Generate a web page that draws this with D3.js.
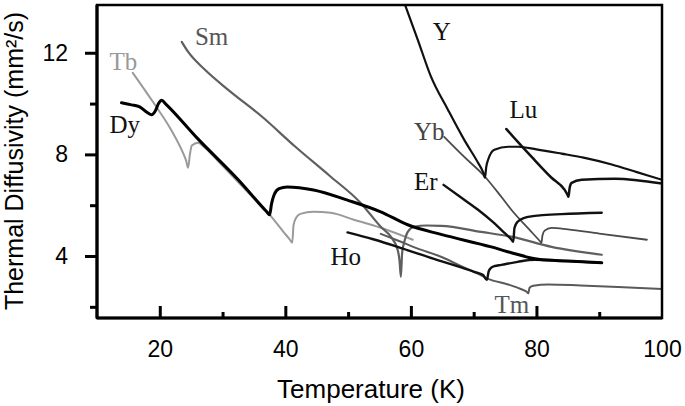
<!DOCTYPE html>
<html>
<head>
<meta charset="utf-8">
<script src="https://cdnjs.cloudflare.com/ajax/libs/d3/7.8.5/d3.min.js"></script>
<style>
  body { margin: 0; background: #fff; }
  svg { display: block; }
</style>
</head>
<body>
<svg id="chart" width="685" height="406"></svg>
<script>
// temperature (K), thermal diffusivity (mm2/s) pairs
const dy = [[13.9,10.03],[15.5,9.95],[16.8,9.87],[18.0,9.65],[18.7,9.56],[19.3,9.72],[19.8,10.0],[20.3,10.13],[21.0,9.97],[26,8.63],[32.5,7.0],[37.0,5.75],[37.5,5.62],[37.8,6.05],[38.2,6.4],[39.0,6.65],[40.3,6.72],[44.5,6.6],[49.9,6.2],[55.2,5.74],[59.5,5.23],[64.8,4.85],[72.8,4.36],[76,4.13],[80.3,3.87],[85,3.8],[90.4,3.73]];
const tb = [[15.7,11.21],[18.9,10.07],[21.8,8.97],[23.7,8.06],[24.2,7.75],[24.5,7.47],[24.8,8.0],[25.1,8.35],[26.1,8.46],[27,8.3],[30,7.55],[34,6.52],[37.6,5.6],[39.7,4.95],[40.7,4.65],[41.1,4.52],[41.3,5.2],[41.7,5.5],[42.4,5.66],[44.5,5.74],[47.2,5.7],[50.9,5.43],[55.2,5.11],[60.3,4.64]];
const sm = [[23.5,12.43],[24.5,12.04],[27.2,11.33],[30.9,10.54],[36.3,9.48],[41.6,8.3],[47,7.17],[52.0,6.09],[55.2,5.15],[56.8,4.76],[57.9,4.24],[58.2,3.8],[58.4,3.18],[58.6,4.1],[59.0,4.6],[59.5,4.95],[60.5,5.15],[62.5,5.2],[64.8,5.19],[71.2,4.95],[76,4.76],[82.4,4.36],[90.4,4.05]];
const y = [[58.9,14.0],[61.1,12.51],[63.2,11.06],[65.9,9.76],[68.5,8.57],[70.7,7.67],[71.5,7.3],[71.8,7.08],[72.0,7.5],[72.3,7.79],[73.3,8.18],[75.5,8.3],[77.1,8.3],[80,8.2],[84,8.03],[87.5,7.87],[92,7.6],[96,7.3],[100,7.0]];
const lu = [[75.2,9.0],[77,8.5],[79.2,7.91],[82.4,7.08],[84.5,6.6],[85.0,6.38],[85.1,6.33],[85.3,6.7],[85.6,6.88],[87.2,7.0],[92.5,7.04],[100,6.85]];
const yb = [[65.3,8.69],[68.5,7.9],[71.7,7.15],[74.4,6.33],[76,5.82],[79.2,4.95],[80.5,4.6],[80.8,4.52],[80.95,4.8],[81.3,5.0],[82.4,5.11],[85,5.05],[90,4.88],[97.6,4.64]];
const er = [[65.2,6.8],[68,6.3],[70.7,5.82],[73,5.35],[74.9,4.91],[76.0,4.65],[76.3,4.56],[76.5,5.1],[77,5.35],[78.1,5.5],[80.5,5.6],[84,5.65],[90.4,5.7]];
const ho = [[49.9,4.93],[54,4.66],[57.9,4.36],[61,4.1],[64.8,3.8],[68,3.55],[70.1,3.38],[71.5,3.25],[72.1,3.06],[72.4,3.4],[72.8,3.54],[73.3,3.6],[74.4,3.65],[77,3.77],[79.7,3.85],[85,3.8],[90.4,3.73]];
const tm = [[55.2,4.87],[58,4.6],[61,4.3],[64.8,3.97],[68,3.6],[70.7,3.3],[72.3,3.1],[75.5,2.88],[77.5,2.7],[78.5,2.58],[78.7,2.53],[78.9,2.75],[79.5,2.83],[81.9,2.88],[87,2.84],[93,2.78],[100,2.7]];

const xMajor = [20, 40, 60, 80, 100];
const xMinor = [30, 50, 70, 90];
const yMajor = [4, 8, 12];
const yMinor = [2, 6, 10];

// element name, anchor point of its label (T, D)
const labelNames = ['Tb', 'Sm', 'Dy', 'Y', 'Lu', 'Yb', 'Er', 'Ho', 'Tm'];
const labelAt = [[12.0,11.33],[25.6,12.31],[12.0,8.85],[63.5,12.51],[75.7,9.44],[60.5,8.57],[60.5,6.61],[47.2,3.65],[73.3,1.76]];

const series = [
  { name: 'Tb', data: tb, color: '#9a9a9a', w: 2 },
  { name: 'Sm', data: sm, color: '#5f5f5f', w: 2.2 },
  { name: 'Tm', data: tm, color: '#5a5a5a', w: 2 },
  { name: 'Yb', data: yb, color: '#4a4a4a', w: 1.8 },
  { name: 'Ho', data: ho, color: '#111', w: 2.4 },
  { name: 'Er', data: er, color: '#111', w: 2.4 },
  { name: 'Lu', data: lu, color: '#111', w: 2.5 },
  { name: 'Y', data: y, color: '#111', w: 2.2 },
  { name: 'Dy', data: dy, color: '#000', w: 3 }
];
const labelColor = { Tb: '#999', Sm: '#555', Yb: '#444', Tm: '#555' };

const margin = { top: 5, right: 23, bottom: 88, left: 97 };
const width = 685 - margin.left - margin.right;
const height = 406 - margin.top - margin.bottom;

const svg = d3.select('#chart');
const g = svg.append('g').attr('transform', `translate(${margin.left},${margin.top})`);

const x = d3.scaleLinear().domain([10, 100]).range([0, width]);
const yScale = d3.scaleLinear().domain([1.56, 13.88]).range([height, 0]);

g.append('clipPath').attr('id', 'plot')
  .append('rect').attr('width', width).attr('height', height);

const line = d3.line()
  .x(d => x(d[0]))
  .y(d => yScale(d[1]))
  .curve(d3.curveMonotoneX);

g.append('g').attr('clip-path', 'url(#plot)')
  .selectAll('path')
  .data(series)
  .join('path')
  .attr('d', d => line(d.data))
  .attr('fill', 'none')
  .attr('stroke', d => d.color)
  .attr('stroke-width', d => d.w)
  .attr('stroke-linejoin', 'round')
  .attr('stroke-linecap', 'round');

// element labels
g.selectAll('.lbl')
  .data(labelNames)
  .join('text')
  .attr('class', 'lbl')
  .attr('x', (d, i) => x(labelAt[i][0]))
  .attr('y', (d, i) => yScale(labelAt[i][1]))
  .attr('fill', d => labelColor[d] || '#111')
  .style('font-family', "'Liberation Serif', 'Times New Roman', serif")
  .style('font-size', '25px')
  .text(d => d);

// frame
g.append('rect')
  .attr('width', width).attr('height', height)
  .attr('fill', 'none').attr('stroke', '#000').attr('stroke-width', 2.5);

// axes: ticks
const styleAxis = sel => {
  sel.select('.domain').remove();
  sel.selectAll('line').attr('stroke', '#000').attr('stroke-width', 3);
  sel.selectAll('text')
    .attr('fill', '#000')
    .style('font-family', "'Liberation Sans', Arial, sans-serif")
    .style('font-size', '23px');
};

g.append('g').call(d3.axisLeft(yScale).tickValues(yMajor).tickSize(12).tickPadding(17).tickFormat(d3.format('d'))).call(styleAxis);
g.append('g').call(d3.axisLeft(yScale).tickValues(yMinor).tickSize(7).tickFormat('')).call(styleAxis);

g.append('g').attr('transform', `translate(0,${height})`)
  .call(d3.axisBottom(x).tickValues(xMajor.slice(0, -1)).tickSize(-12).tickFormat('')).call(styleAxis);
g.append('g').attr('transform', `translate(0,${height})`)
  .call(d3.axisBottom(x).tickValues(xMinor).tickSize(-6).tickFormat('')).call(styleAxis);
g.append('g').attr('transform', `translate(0,${height})`)
  .call(d3.axisBottom(x).tickValues(xMajor).tickSize(0).tickPadding(23).tickFormat(d3.format('d'))).call(styleAxis);

// heavier left and bottom lines
g.append('line').attr('x1', 0).attr('x2', 0).attr('y1', 0).attr('y2', height)
  .attr('stroke', '#000').attr('stroke-width', 3.2);
g.append('line').attr('x1', 0).attr('x2', width).attr('y1', height).attr('y2', height)
  .attr('stroke', '#000').attr('stroke-width', 3.2);

// axis titles
svg.append('text')
  .attr('x', 371).attr('y', 398)
  .attr('text-anchor', 'middle')
  .style('font-family', "'Liberation Sans', Arial, sans-serif")
  .style('font-size', '26px')
  .text('Temperature (K)');

svg.append('text')
  .attr('transform', 'translate(23,161) rotate(-90)')
  .attr('text-anchor', 'middle')
  .style('font-family', "'Liberation Sans', Arial, sans-serif")
  .style('font-size', '25px')
  .text('Thermal Diffusivity (mm²/s)');
</script>
</body>
</html>
